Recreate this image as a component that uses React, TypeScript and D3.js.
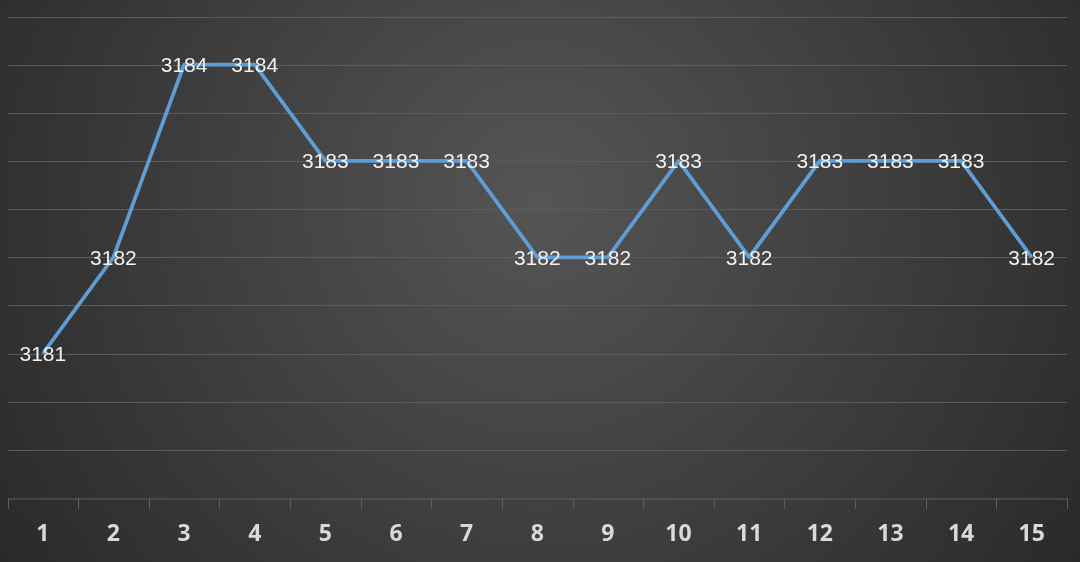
import { useEffect, useRef } from 'react'
import * as d3 from 'd3'

const categories = ['1', '2', '3', '4', '5', '6', '7', '8', '9', '10', '11', '12', '13', '14', '15']
const values = [3181, 3182, 3184, 3184, 3183, 3183, 3183, 3182, 3182, 3183, 3182, 3183, 3183, 3183, 3182]
const gridTicks = [3179.5, 3180, 3180.5, 3181, 3181.5, 3182, 3182.5, 3183, 3183.5, 3184, 3184.5]

export default function App() {
  const ref = useRef<SVGSVGElement>(null)

  useEffect(() => {
    if (!ref.current) return
    const width = 1080
    const height = 562
    const svg = d3.select(ref.current)
    svg.selectAll('*').remove()

    const defs = svg.append('defs')
    const grad = defs
      .append('radialGradient')
      .attr('id', 'bg')
      .attr('gradientUnits', 'userSpaceOnUse')
      .attr('cx', 540)
      .attr('cy', 200)
      .attr('r', 700)
    grad.append('stop').attr('offset', '0%').attr('stop-color', '#555555')
    grad.append('stop').attr('offset', '100%').attr('stop-color', '#262626')

    svg.append('rect').attr('width', width).attr('height', height).attr('fill', 'url(#bg)')

    const x = d3.scaleBand().domain(categories).range([7.5, 1067])
    const y = d3.scaleLinear().domain([3179.5, 3184.5]).range([498, 16.5])

    // gridlines
    svg
      .append('g')
      .selectAll('line')
      .data(gridTicks.slice(1))
      .join('line')
      .attr('x1', 7.5)
      .attr('x2', 1067)
      .attr('y1', (d) => Math.round(y(d)) + 0.5)
      .attr('y2', (d) => Math.round(y(d)) + 0.5)
      .attr('stroke', '#5c5c5c')
      .attr('stroke-width', 1)

    // x axis
    const axis = svg
      .append('g')
      .attr('transform', `translate(0,${498.5})`)
      .call(d3.axisBottom(x).tickSize(0).tickPadding(26))
    axis.select('.domain').attr('stroke', '#5f5f5f')
    axis
      .selectAll('text')
      .attr('fill', '#d9d9d9')
      .style('font-family', '"Open Sans", "Liberation Sans", sans-serif')
      .style('font-weight', 'bold')
      .style('font-size', '23px')

    const edges = [...categories.map((c) => x(c) || 0), 1067]
    svg
      .append('g')
      .selectAll('line')
      .data(edges)
      .join('line')
      .attr('x1', (d) => Math.round(d) + 0.5)
      .attr('x2', (d) => Math.round(d) + 0.5)
      .attr('y1', 498)
      .attr('y2', 509)
      .attr('stroke', '#5f5f5f')

    const line = d3
      .line<number>()
      .x((_, i) => (x(categories[i]) || 0) + x.bandwidth() / 2)
      .y((d) => y(d))

    svg
      .append('path')
      .datum(values)
      .attr('d', line)
      .attr('fill', 'none')
      .attr('stroke', '#5f9dd6')
      .attr('stroke-width', 3.75)
      .attr('stroke-linejoin', 'round')

    svg
      .append('g')
      .selectAll('text')
      .data(values)
      .join('text')
      .attr('x', (_, i) => (x(categories[i]) || 0) + x.bandwidth() / 2)
      .attr('y', (d) => y(d))
      .attr('dy', '0.35em')
      .attr('text-anchor', 'middle')
      .attr('fill', '#f2f2f2')
      .style('font-family', '"Liberation Sans", Arial, sans-serif')
      .style('font-size', '21px')
      .text((d) => d)
  }, [])

  return (
    <div style={{ position: 'fixed', left: 0, top: 0, width: 1080, height: 562, overflow: 'hidden' }}>
      <svg ref={ref} width={1080} height={562} style={{ display: 'block' }} />
    </div>
  )
}
